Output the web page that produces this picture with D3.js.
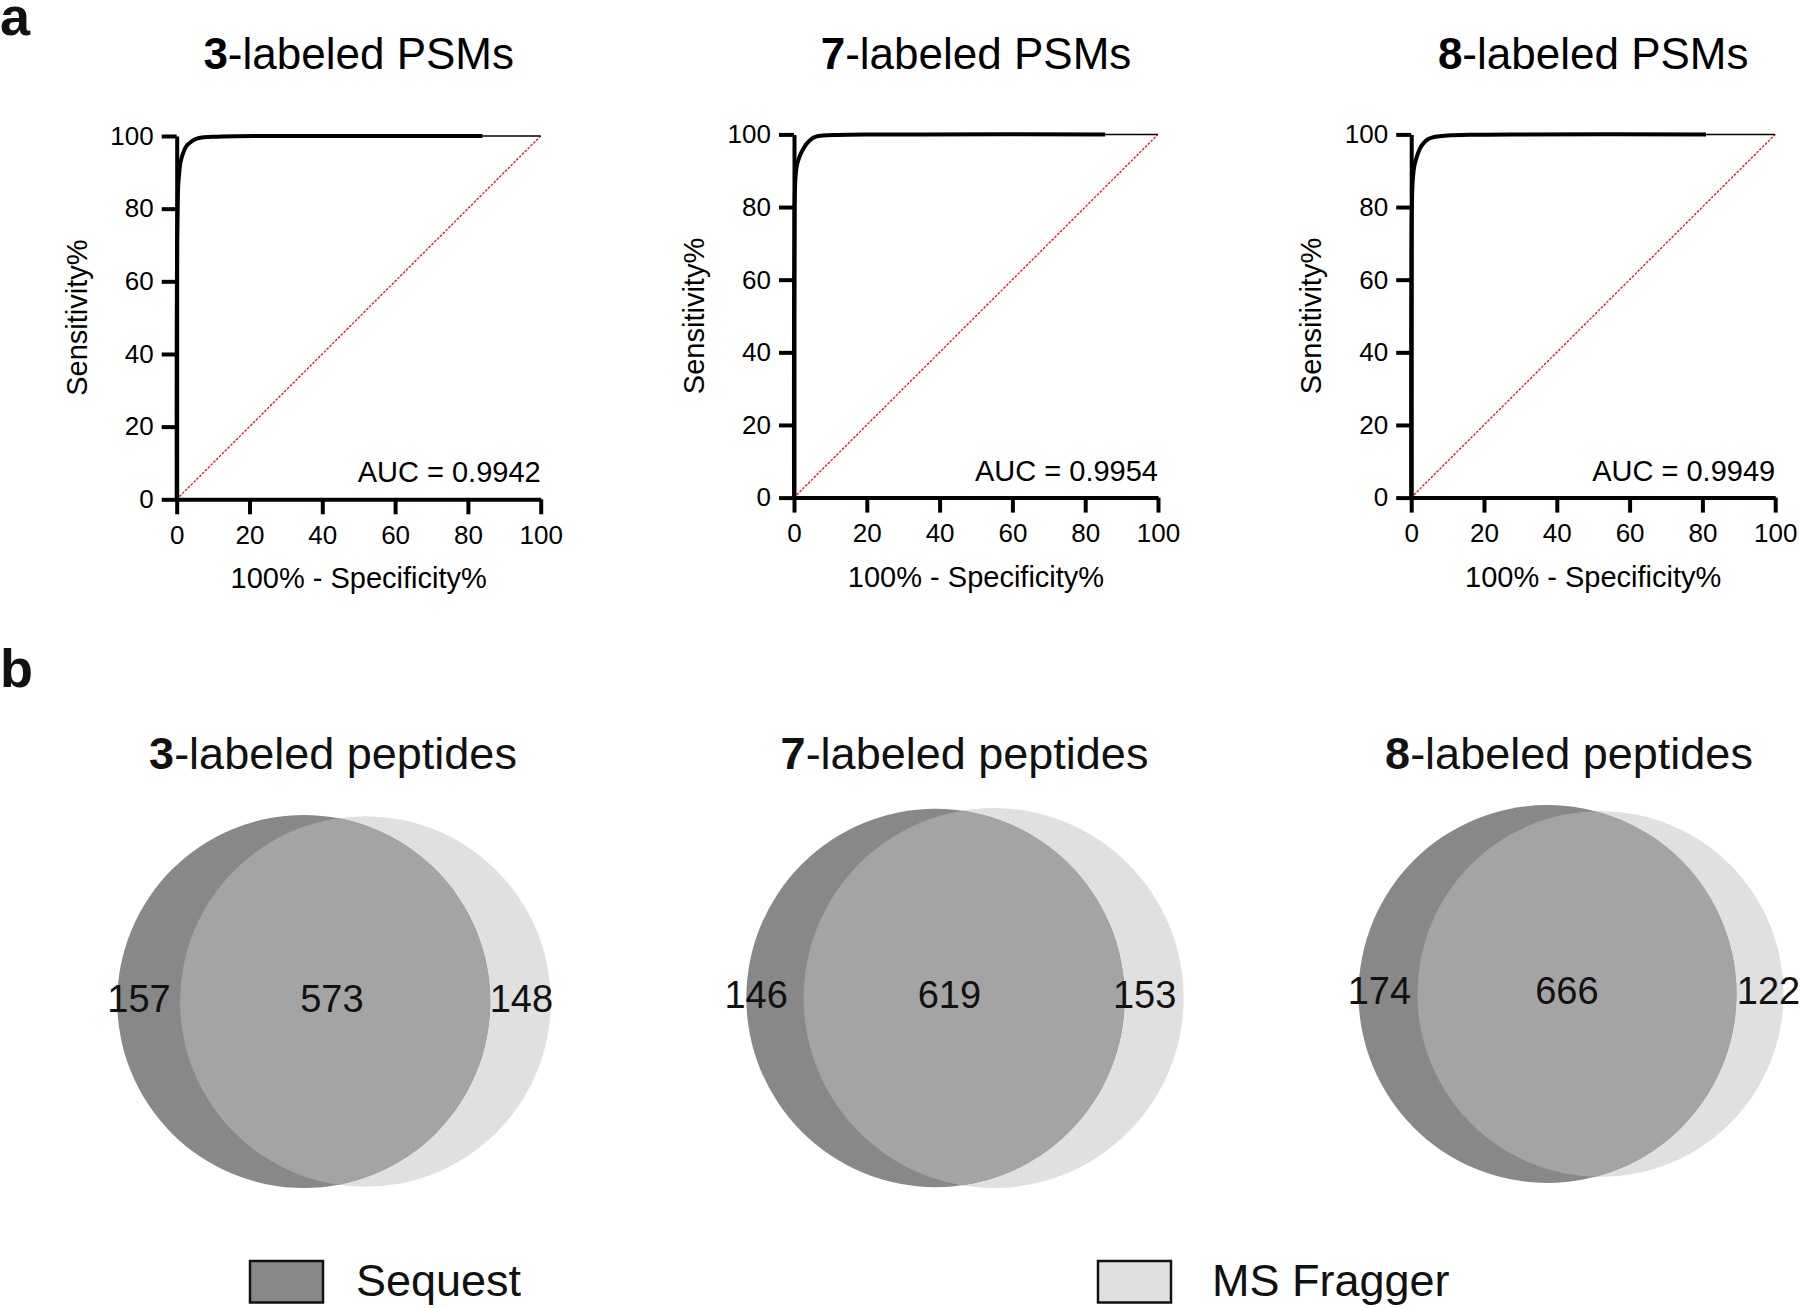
<!DOCTYPE html>
<html>
<head>
<meta charset="utf-8">
<script src="https://cdn.jsdelivr.net/npm/d3@7"></script>
<style>
  html, body { margin: 0; padding: 0; background: #fff; }
  svg { display: block; }
  text { font-family: "Liberation Sans", Arial, Helvetica, sans-serif; }
</style>
</head>
<body>
<svg id="chart" width="1800" height="1308"></svg>
<script>
// ---------------- DATA ----------------
// Panel a: ROC curves (x = 100% - Specificity%, y = Sensitivity%)
const rocLabels = ["3", "7", "8"];
const aucValues = ["0.9942", "0.9954", "0.9949"];
const xTickValues = [0, 20, 40, 60, 80, 100];
const yTickValues = [0, 20, 40, 60, 80, 100];

const roc3 = [[0,0],[0,40],[0.1,70],[0.25,80],[0.4,86],[0.7,90],[1,92.5],[1.5,94.5],[2.3,96.6],[3,97.6],[3.7,98.2],[4.5,98.8],[5.5,99.3],[7,99.6],[10,99.8],[16,99.95],[30,100],[84,100]];
const roc7 = [[0,0],[0,50],[0.15,80],[0.4,88],[0.7,91],[1.2,93],[2,95],[3,96.8],[4,98],[5,98.9],[6,99.4],[8,99.7],[12,99.85],[20,99.95],[35,100],[85.5,100]];
const roc8 = [[0,0],[0,45],[0.1,75],[0.25,83],[0.4,87],[0.8,91],[1.4,93.4],[2.4,96.1],[3.4,97.6],[4.5,98.6],[5.7,99.1],[7.1,99.4],[10,99.7],[16,99.9],[30,100],[81,100]];
const rocTail3 = [[84,100],[100,100]];
const rocTail7 = [[85.5,100],[100,100]];
const rocTail8 = [[81,100],[100,100]];
const chanceLine = [[0,0],[100,100]];

// Panel b: Venn diagrams
const vennLabels = ["3", "7", "8"];
const sequestOnly = [157, 146, 174];
const sharedCounts = [573, 619, 666];
const fraggerOnly = [148, 153, 122];
const legendNames = ["Sequest", "MS Fragger"];

// ---------------- LAYOUT / STYLE ----------------
const FONT = '"Liberation Sans", Arial, Helvetica, sans-serif';
const rocLayout = [
  {x0: 176.7, top: 136.0, bottom: 499.3},
  {x0: 794.0, top: 134.4, bottom: 497.6},
  {x0: 1411.2, top: 134.4, bottom: 497.6}
];
const rocWidth = 364;
const vennLayout = [
  {cx: 334, cy: 1001.5, R: 186.5, titleX: 333, off: [-9.7, -3.3, 0.9]},
  {cx: 965, cy: 998, R: 190, titleX: 964.5, off: [-18.9, -14.7, -9.5]},
  {cx: 1571, cy: 994, R: 189, titleX: 1569, off: [-8.6, -10.1, 8.5]}
];
const colSequest = "#888888", colFragger = "#e0e0e0", colShared = "#a4a4a4";

const svg = d3.select("#chart");

// Panel letters
svg.append("text").attr("x", 0).attr("y", 35).attr("font-size", 54)
  .attr("font-weight", "bold").attr("fill", "#111").text("a");
svg.append("text").attr("x", 0).attr("y", 687).attr("font-size", 54)
  .attr("font-weight", "bold").attr("fill", "#111").text("b");

// ---------------- ROC PANELS ----------------
const rocSets = [roc3, roc7, roc8];
const rocTails = [rocTail3, rocTail7, rocTail8];

rocLayout.forEach((L, i) => {
  const g = svg.append("g");
  const x = d3.scaleLinear().domain([0, 100]).range([L.x0, L.x0 + rocWidth]);
  const y = d3.scaleLinear().domain([0, 100]).range([L.bottom, L.top]);

  // title
  const t = g.append("text")
    .attr("x", (L.x0 + L.x0 + rocWidth) / 2).attr("y", 68.5)
    .attr("text-anchor", "middle").attr("font-size", 44).attr("fill", "#000");
  t.append("tspan").attr("font-weight", "bold").text(rocLabels[i]);
  t.append("tspan").text("-labeled PSMs");

  // chance line
  const line = d3.line().x(d => x(d[0])).y(d => y(d[1]));
  g.append("path").datum(chanceLine).attr("d", line)
    .attr("fill", "none").attr("stroke", "#ff0000").attr("stroke-width", 1.3)
    .attr("stroke-dasharray", "2.5,1.5");

  // axes
  const xAxis = d3.axisBottom(x).tickValues(xTickValues).tickSize(15).tickPadding(11).tickSizeOuter(0);
  const yAxis = d3.axisLeft(y).tickValues(yTickValues).tickSize(15).tickPadding(8).tickSizeOuter(0);
  const gx = g.append("g").attr("transform", `translate(0,${L.bottom})`).call(xAxis);
  const gy = g.append("g").attr("transform", `translate(${L.x0},0)`).call(yAxis);
  [gx, gy].forEach(ax => {
    ax.select(".domain").attr("stroke", "#000").attr("stroke-width", 4);
    ax.selectAll(".tick line").attr("stroke", "#000").attr("stroke-width", 4);
    ax.selectAll(".tick text").attr("font-size", 26).attr("font-family", FONT).attr("fill", "#000");
  });

  // thin tail then thick curve
  g.append("path").datum(rocTails[i]).attr("d", line)
    .attr("fill", "none").attr("stroke", "#000").attr("stroke-width", 1.5);
  const curve = d3.line().x(d => x(d[0])).y(d => y(d[1])).curve(d3.curveCatmullRom.alpha(0.5));
  g.append("path").datum(rocSets[i]).attr("d", curve)
    .attr("fill", "none").attr("stroke", "#000").attr("stroke-width", 4)
    .attr("stroke-linejoin", "round");

  // AUC
  g.append("text").attr("x", x(100)).attr("y", L.bottom - 17)
    .attr("text-anchor", "end").attr("font-size", 29).attr("fill", "#000")
    .text("AUC = " + aucValues[i]);

  // axis titles
  g.append("text").attr("x", x(50)).attr("y", L.bottom + 89)
    .attr("text-anchor", "middle").attr("font-size", 29).attr("fill", "#000")
    .text("100% - Specificity%");
  g.append("text")
    .attr("transform", `translate(${L.x0 - 90},${(L.top + L.bottom) / 2}) rotate(-90)`)
    .attr("text-anchor", "middle").attr("font-size", 29).attr("fill", "#000")
    .text("Sensitivity%");
});

// ---------------- VENN PANELS ----------------
function overlapArea(r1, r2, d) {
  if (d >= r1 + r2) return 0;
  if (d <= Math.abs(r1 - r2)) return Math.PI * Math.min(r1, r2) ** 2;
  const a = r1 * r1 * Math.acos((d * d + r1 * r1 - r2 * r2) / (2 * d * r1));
  const b = r2 * r2 * Math.acos((d * d + r2 * r2 - r1 * r1) / (2 * d * r2));
  const c = 0.5 * Math.sqrt((-d + r1 + r2) * (d + r1 - r2) * (d - r1 + r2) * (d + r1 + r2));
  return a + b - c;
}
function solveDistance(r1, r2, target) {
  let lo = Math.abs(r1 - r2) + 1e-6, hi = r1 + r2;
  for (let k = 0; k < 80; k++) {
    const mid = (lo + hi) / 2;
    if (overlapArea(r1, r2, mid) > target) lo = mid; else hi = mid;
  }
  return (lo + hi) / 2;
}

const defs = svg.append("defs");

vennLayout.forEach((L, i) => {
  const g = svg.append("g");
  const totalA = sequestOnly[i] + sharedCounts[i];
  const totalB = fraggerOnly[i] + sharedCounts[i];
  const maxT = Math.max(totalA, totalB);
  const r = d3.scaleSqrt().domain([0, maxT]).range([0, L.R]);
  const r1 = r(totalA), r2 = r(totalB);
  const unitArea = Math.PI * L.R * L.R / maxT;
  const d = solveDistance(r1, r2, sharedCounts[i] * unitArea);
  const c1 = L.cx - (d + r2 - r1) / 2;
  const c2 = c1 + d;

  // title
  const t = g.append("text").attr("x", L.titleX).attr("y", 769)
    .attr("text-anchor", "middle").attr("font-size", 45).attr("fill", "#111");
  t.append("tspan").attr("font-weight", "bold").text(vennLabels[i]);
  t.append("tspan").text("-labeled peptides");

  // circles
  g.append("circle").attr("cx", c2).attr("cy", L.cy).attr("r", r2).attr("fill", colFragger);
  g.append("circle").attr("cx", c1).attr("cy", L.cy).attr("r", r1).attr("fill", colSequest);
  const clipId = "clipSeq" + i;
  defs.append("clipPath").attr("id", clipId)
    .append("circle").attr("cx", c1).attr("cy", L.cy).attr("r", r1);
  g.append("circle").attr("cx", c2).attr("cy", L.cy).attr("r", r2)
    .attr("fill", colShared).attr("clip-path", `url(#${clipId})`);

  // labels
  const leftX = ((c1 - r1) + (c2 - r2)) / 2 + L.off[0];
  const midX = ((c2 - r2) + (c1 + r1)) / 2 + L.off[1];
  const rightX = ((c1 + r1) + (c2 + r2)) / 2 + L.off[2];
  const labels = [[leftX, sequestOnly[i]], [midX, sharedCounts[i]], [rightX, fraggerOnly[i]]];
  g.selectAll("text.num").data(labels).join("text").attr("class", "num")
    .attr("x", dd => dd[0]).attr("y", L.cy + 10)
    .attr("text-anchor", "middle").attr("font-size", 38).attr("fill", "#111")
    .text(dd => dd[1]);
});

// ---------------- LEGEND ----------------
const legendLayout = [{bx: 250, tx: 356}, {bx: 1098, tx: 1212}];
const legendColors = [colSequest, colFragger];
legendNames.forEach((name, i) => {
  const L = legendLayout[i];
  svg.append("rect").attr("x", L.bx).attr("y", 1261).attr("width", 73).attr("height", 41.5)
    .attr("fill", legendColors[i]).attr("stroke", "#111").attr("stroke-width", 2.5);
  svg.append("text").attr("x", L.tx).attr("y", 1295.5).attr("font-size", 45)
    .attr("fill", "#111").text(name);
});
</script>
</body>
</html>
